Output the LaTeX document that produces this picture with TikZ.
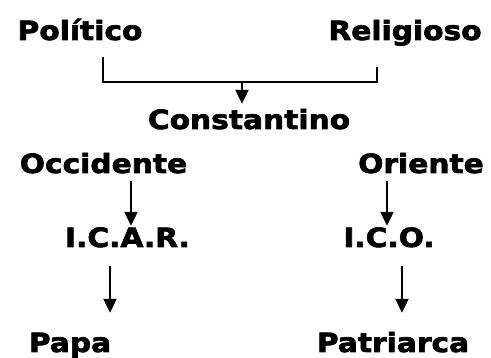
\documentclass[tikz,border=0pt]{standalone}
\usepackage{fontspec}
\newfontfamily\diagfont{DejaVu Sans}[FakeStretch=1.12, FakeBold=2.5]
\usepackage{tikz}
\usetikzlibrary{arrows.meta}
\tikzset{
x=1pt, y=-1pt, % pixel-like units, y grows downwards
word/.style={inner sep=0pt, anchor=base, text height=20pt, text depth=8pt,
  font=\diagfont\bfseries\fontsize{26.5}{30}\selectfont}, % every label
line/.style={line width=2.2pt}, % plain strokes
arr/.style={line width=2.2pt, -{Triangle[width=13pt,length=14pt]}}, % arrows with a filled head
}
\begin{document}
\begin{tikzpicture}
        \useasboundingbox (0,0) rectangle (491,358);

        \node[word] (pol) at (80,40) {Político};
        \node[word] (rel) at (405,40) {Religioso};
        \node[word] (con) at (249,129) {Constantino};
        \node[word] (occ) at (103.5,173) {Occidente};
        \node[word] (ori) at (421,173) {Oriente};
        \node[word] (icar) at (127.5,247) {I.C.A.R.};
        \node[word] (ico) at (389,247) {I.C.O.};
        \node[word] (papa) at (70,352) {Papa};
        \node[word] (pat) at (393,352) {Patriarca};

        \coordinate (join) at (242,82);

        % bracket joining the two powers
        \draw[line] ([xshift=23pt,yshift=-9pt]pol.south) |- (join)
          -| ([xshift=-28pt,yshift=-19pt]rel.south);
        \draw[arr] (join) -- ([xshift=-7pt,yshift=5pt]con.north);

        \draw[arr] ([xshift=27.5pt]occ.south) -- ([xshift=3.5pt,yshift=1pt]icar.north);
        \draw[arr] ([xshift=-34pt]ori.south) -- ([xshift=-2pt,yshift=1pt]ico.north);
        \draw[arr] ([xshift=-17.5pt,yshift=-11pt]icar.south) -- ([xshift=40pt,yshift=19pt]papa.north);
        \draw[arr] ([xshift=13pt,yshift=-11pt]ico.south) -- ([xshift=9pt,yshift=19pt]pat.north);
      \end{tikzpicture}
\end{document}
